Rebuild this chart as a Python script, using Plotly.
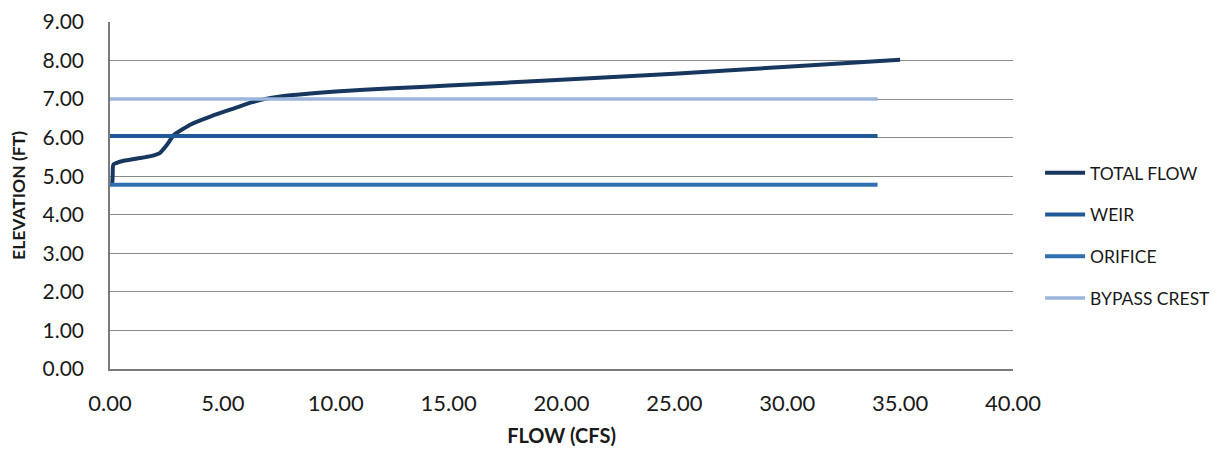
import plotly.graph_objects as go

# Data
total_flow_x = [0.10, 0.12, 0.15, 0.6, 1.2, 1.8, 2.2, 2.5, 2.85, 3.6, 4.5, 5.5, 6.3, 7.0, 8.0, 10.0, 12.5, 15.0, 20.0, 25.0, 30.0, 35.0]
total_flow_y = [4.80, 5.05, 5.30, 5.40, 5.46, 5.52, 5.60, 5.80, 6.08, 6.35, 6.56, 6.76, 6.92, 7.02, 7.10, 7.20, 7.28, 7.35, 7.50, 7.66, 7.84, 8.02]
weir_x = [0.0, 34.0]
weir_y = [6.04, 6.04]
orifice_x = [0.0, 34.0]
orifice_y = [4.78, 4.78]
bypass_x = [0.0, 34.0]
bypass_y = [7.00, 7.00]
x_ticks = [0, 5, 10, 15, 20, 25, 30, 35, 40]
y_ticks = [0, 1, 2, 3, 4, 5, 6, 7, 8, 9]

fig = go.Figure()
fig.add_trace(go.Scatter(x=total_flow_x, y=total_flow_y, mode="lines", name="TOTAL FLOW",
                         line=dict(color="#17375F", width=4, shape="spline", smoothing=0.5), legendgroup="a"))
fig.add_trace(go.Scatter(x=weir_x, y=weir_y, mode="lines", name="WEIR",
                         line=dict(color="#1F5A97", width=4), legendgroup="b"))
fig.add_trace(go.Scatter(x=orifice_x, y=orifice_y, mode="lines", name="ORIFICE",
                         line=dict(color="#2E6FB2", width=4), legendgroup="c"))
fig.add_trace(go.Scatter(x=bypass_x, y=bypass_y, mode="lines", name="BYPASS CREST",
                         line=dict(color="#9BB6DC", width=3.5), legendgroup="d"))

font = "Lato, Open Sans, Liberation Sans, Arial, sans-serif"
fig.update_layout(
    width=1220, height=451,
    margin=dict(l=102, r=206, t=14, b=90),
    paper_bgcolor="white", plot_bgcolor="white",
    font=dict(family=font, color="#1a1a1a"),
    legend=dict(x=1.03, y=0.385, xanchor="left", yanchor="middle",
                font=dict(size=17.5, family=font, color="#1a1a1a"),
                tracegroupgap=16, itemwidth=40, bgcolor="rgba(0,0,0,0)"),
    xaxis=dict(range=[0, 40], tickvals=x_ticks, tickformat=".2f", automargin=False,
               ticklabeloverflow="allow",
               showgrid=False, zeroline=False, showline=True, linecolor="#7a7a7a", linewidth=1.5,
               ticks="", tickfont=dict(size=22), ticklabelstandoff=14,
               title=dict(text="<b>FLOW (CFS)</b>", font=dict(size=20), standoff=14)),
    yaxis=dict(range=[0, 9], tickvals=y_ticks, tickformat=".2f", automargin=False,
               ticklabeloverflow="allow",
               showgrid=True, gridcolor="#8a8a8a", gridwidth=1, zeroline=False,
               showline=True, linecolor="#7a7a7a", linewidth=1.5,
               ticks="", tickfont=dict(size=21), ticklabelstandoff=20,
               title=dict(text="<b>ELEVATION (FT)</b>", font=dict(size=17.5), standoff=13)),
)
fig.write_html("out.html")
